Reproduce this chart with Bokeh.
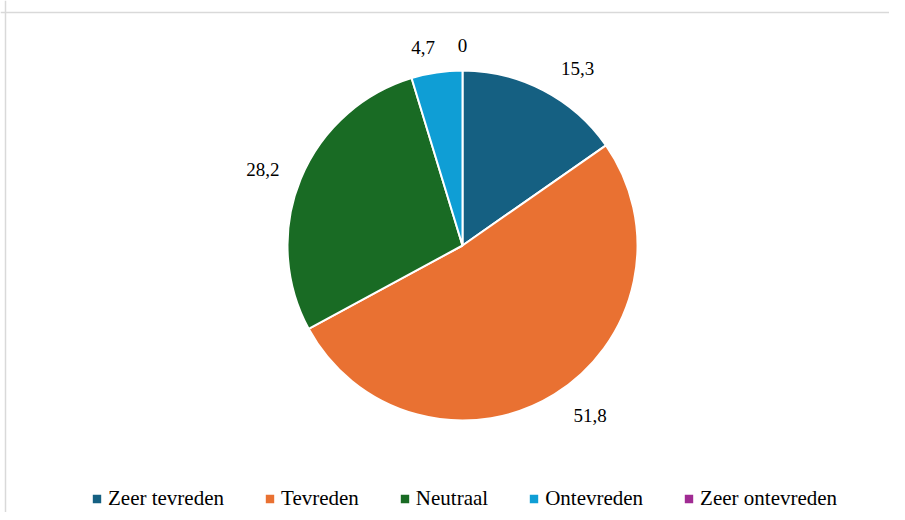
import math
from bokeh.plotting import figure
from bokeh.models import ColumnDataSource, Range1d, Legend, LegendItem, Span
from bokeh.core.properties import value
from bokeh.embed import file_html
from bokeh.resources import INLINE

categories = ["Zeer tevreden", "Tevreden", "Neutraal", "Ontevreden", "Zeer ontevreden"]
values = [15.3, 51.8, 28.2, 4.7, 0]
colors = ["#156082", "#E97132", "#196B24", "#0F9ED5", "#A02B93"]

W, H = 889, 512
CX, CY, R = 462, H - 245, 175
LABEL_R = 200
FONT = "Liberation Serif"

total = sum(values)
starts, ends, radii, lx, ly, labels, aligns = [], [], [], [], [], [], []
acc = 0.0
for v in values:
    a0 = math.pi / 2 - 2 * math.pi * acc / total
    a1 = math.pi / 2 - 2 * math.pi * (acc + v) / total
    starts.append(a0)
    ends.append(a1)
    radii.append(R if v > 0 else 0)
    mid = (a0 + a1) / 2
    c = math.cos(mid)
    s = math.sin(mid)
    if abs(c) < 0.05:
        align, shift = "center", 0
    elif c > 0:
        align, shift = "left", 6
    else:
        align, shift = "right", 2
    lx.append(CX + LABEL_R * c + shift)
    ly.append(CY + LABEL_R * s)
    aligns.append(align)
    labels.append(f"{v:g}".replace(".", ","))
    acc += v

src = ColumnDataSource(dict(cat=categories, val=values, color=colors, radius=radii,
                            start=starts, end=ends, lx=lx, ly=ly, label=labels,
                            align=aligns))

p = figure(width=W, height=H, output_backend="svg", toolbar_location=None,
           x_range=Range1d(0, W), y_range=Range1d(0, H),
           x_axis_type=None, y_axis_type=None, min_border=0,
           outline_line_color=None, background_fill_color="white",
           border_fill_color="white")
p.grid.visible = False

# chart border (top and left edges visible)
p.add_layout(Span(location=H - 12, dimension="width", line_color="#d9d9d9", line_width=1.5))
p.add_layout(Span(location=5, dimension="height", line_color="#d9d9d9", line_width=1.5))

wr = p.wedge(x=CX, y=CY, radius="radius", start_angle="start", end_angle="end",
             direction="clock", fill_color="color", line_color="white",
             line_width=2, source=src)

p.text(x="lx", y="ly", text="label", source=src, text_align="align",
       text_baseline="middle", text_font=value(FONT), text_font_size="19px",
       text_color="#000000")

items = [LegendItem(label=c, renderers=[wr], index=i) for i, c in enumerate(categories)]
legend = Legend(items=items, orientation="horizontal", location=(90, 1),
                label_text_font=FONT, label_text_font_size="21px",
                label_text_color="#000000", glyph_width=13, glyph_height=13,
                label_height=16, label_standoff=5, spacing=39, padding=0, margin=0,
                border_line_color=None, background_fill_alpha=0)
p.add_layout(legend)

open("out.html", "w").write(file_html(p, INLINE))
